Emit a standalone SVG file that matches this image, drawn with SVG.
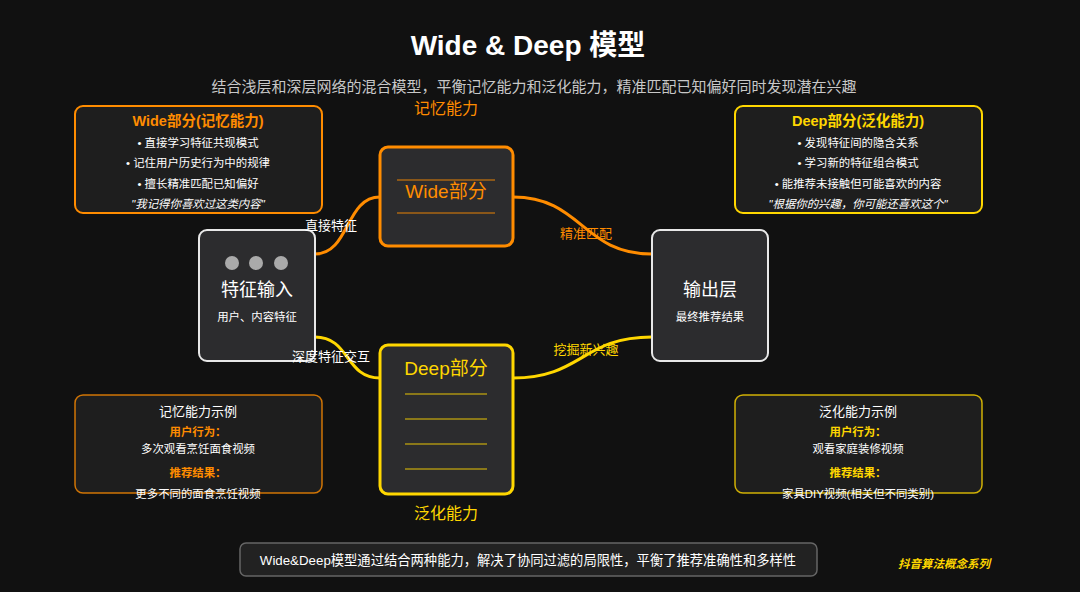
<svg xmlns="http://www.w3.org/2000/svg" width="1080" height="592" viewBox="0 0 1080 592">
<style>
text{font-family:"Liberation Sans","Noto Sans CJK SC",sans-serif;text-anchor:middle;dominant-baseline:central}
.w{fill:#ffffff}
.o{fill:#FF8C00}
.y{fill:#FFD700}
.info{fill:#1e1e1e;stroke-width:2}
.node{fill:#2c2c2e;stroke-width:3}
.s11{font-size:11.4px}
.b{font-weight:bold}
.conn{fill:none;stroke-width:3}
.lbl{font-size:13px}
</style>
<rect width="1080" height="592" fill="#111111"/>
<g id="title">
<text x="528" y="45" class="w b" style="font-size:28px">Wide &amp; Deep 模型</text>
<text x="534" y="86" style="font-size:15px;fill:#c8c8c8">结合浅层和深层网络的混合模型，平衡记忆能力和泛化能力，精准匹配已知偏好同时发现潜在兴趣</text>
</g>
<g id="connectors">
<path class="conn" stroke="#FF8C00" d="M315,254 C350,254 345,197 380,197"/>
<path class="conn" stroke="#FFD700" d="M315,337 C350,337 345,378 380,378"/>
<path class="conn" stroke="#FF8C00" d="M513,197 C582,197 582,254 652,254"/>
<path class="conn" stroke="#FFD700" d="M513,378 C582,378 582,337 652,337"/>
</g>
<g id="wide-info">
<rect x="75" y="106" width="247" height="107" rx="8" class="info" stroke="#FF8C00"/>
<text x="198" y="121" class="o b" style="font-size:14.5px">Wide部分(记忆能力)</text>
<text x="198" y="143" class="w s11">• 直接学习特征共现模式</text>
<text x="198" y="163" class="w s11">• 记住用户历史行为中的规律</text>
<text x="198" y="184" class="w s11">• 擅长精准匹配已知偏好</text>
<text x="198" y="204" class="w s11" font-style="italic">"我记得你喜欢过这类内容"</text>
</g>
<g id="deep-info">
<rect x="735" y="106" width="247" height="107" rx="8" class="info" stroke="#FFD700"/>
<text x="858" y="121" class="y b" style="font-size:14.5px">Deep部分(泛化能力)</text>
<text x="858" y="143" class="w s11">• 发现特征间的隐含关系</text>
<text x="858" y="163" class="w s11">• 学习新的特征组合模式</text>
<text x="858" y="184" class="w s11">• 能推荐未接触但可能喜欢的内容</text>
<text x="858" y="204" class="w s11" font-style="italic">"根据你的兴趣，你可能还喜欢这个"</text>
</g>
<g id="wide-node">
<text x="446" y="108" class="o" style="font-size:16px">记忆能力</text>
<rect x="380" y="147" width="133" height="99" rx="8" class="node" stroke="#FF8C00"/>
<line x1="397" y1="180" x2="495" y2="180" stroke="#FF8C00" stroke-opacity="0.6" stroke-width="1.5"/>
<line x1="397" y1="213" x2="495" y2="213" stroke="#FF8C00" stroke-opacity="0.6" stroke-width="1.5"/>
<text x="446" y="191" class="o" style="font-size:19px">Wide部分</text>
</g>
<g id="input-node">
<rect x="199" y="230" width="116" height="131" rx="8" class="node" stroke="#e8e8e8" style="stroke-width:2"/>
<circle cx="232" cy="263" r="7" fill="#aaaaaa"/>
<circle cx="256" cy="263" r="7" fill="#aaaaaa"/>
<circle cx="281" cy="263" r="7" fill="#aaaaaa"/>
<text x="257" y="290" class="w" style="font-size:18px">特征输入</text>
<text x="257" y="317" class="w s11">用户、内容特征</text>
</g>
<g id="deep-node">
<rect x="380" y="345" width="133" height="149" rx="8" class="node" stroke="#FFD700"/>
<text x="446" y="368" class="y" style="font-size:19px">Deep部分</text>
<line x1="405" y1="394" x2="487" y2="394" stroke="#FFD700" stroke-opacity="0.6" stroke-width="1.5"/>
<line x1="405" y1="419" x2="487" y2="419" stroke="#FFD700" stroke-opacity="0.6" stroke-width="1.5"/>
<line x1="405" y1="444" x2="487" y2="444" stroke="#FFD700" stroke-opacity="0.6" stroke-width="1.5"/>
<line x1="405" y1="469" x2="487" y2="469" stroke="#FFD700" stroke-opacity="0.6" stroke-width="1.5"/>
<text x="446" y="513" class="y" style="font-size:16px">泛化能力</text>
</g>
<g id="output-node">
<rect x="652" y="230" width="116" height="131" rx="8" class="node" stroke="#e8e8e8" style="stroke-width:2"/>
<text x="710" y="290" class="w" style="font-size:18px">输出层</text>
<text x="710" y="317" class="w s11">最终推荐结果</text>
</g>
<g id="connector-labels">
<text x="331" y="225" class="w lbl">直接特征</text>
<text x="331" y="356" class="w lbl">深度特征交互</text>
<text x="586" y="233" class="o lbl">精准匹配</text>
<text x="586" y="349" class="y lbl">挖掘新兴趣</text>
</g>
<g id="wide-example">
<rect x="75" y="395" width="247" height="98" rx="8" fill="#1e1e1e" stroke="#FF8C00" stroke-opacity="0.8" stroke-width="1.5"/>
<text x="198" y="411" class="w" style="font-size:13px">记忆能力示例</text>
<text x="198" y="432" class="o b s11">用户行为：</text>
<text x="198" y="449" class="w s11">多次观看烹饪面食视频</text>
<text x="198" y="473" class="o b s11">推荐结果：</text>
<text x="198" y="494" class="w s11">更多不同的面食烹饪视频</text>
</g>
<g id="deep-example">
<rect x="735" y="395" width="247" height="98" rx="8" fill="#1e1e1e" stroke="#FFD700" stroke-opacity="0.8" stroke-width="1.5"/>
<text x="858" y="411" class="w" style="font-size:13px">泛化能力示例</text>
<text x="858" y="432" class="y b s11">用户行为：</text>
<text x="858" y="449" class="w s11">观看家庭装修视频</text>
<text x="858" y="473" class="y b s11">推荐结果：</text>
<text x="858" y="494" class="w s11">家具DIY视频(相关但不同类别)</text>
</g>
<g id="summary">
<rect x="240" y="543" width="577" height="33" rx="6" fill="#222222" stroke="#666666" stroke-width="1.5"/>
<text x="528" y="560" class="w" style="font-size:13.3px">Wide&amp;Deep模型通过结合两种能力，解决了协同过滤的局限性，平衡了推荐准确性和多样性</text>
</g>
<g id="footer">
<text x="944" y="564" class="y b" style="font-size:11.5px" font-style="italic">抖音算法概念系列</text>
</g>
</svg>
